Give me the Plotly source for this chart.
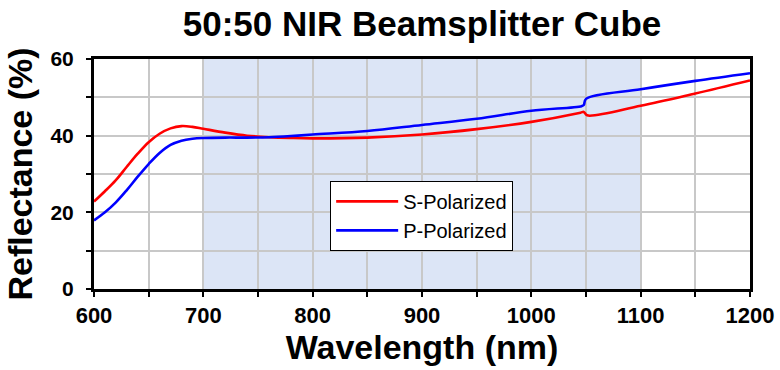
import plotly.graph_objects as go

wavelength_s = [600, 610, 620, 630, 640, 650, 660, 670, 680, 690, 700, 720, 740, 760, 780, 800,
                850, 900, 950, 1000, 1045, 1048, 1051, 1100, 1150, 1200]
s_pol = [22.8, 25.5, 28.4, 31.9, 35.3, 38.3, 40.5, 41.9, 42.5, 42.3, 41.8, 40.8, 40.0, 39.6, 39.4, 39.3,
         39.5, 40.3, 41.7, 43.6, 46.0, 46.2, 45.3, 47.8, 51.0, 54.4]

wavelength_p = [600, 610, 620, 630, 640, 650, 660, 670, 680, 690, 700, 720, 740, 760, 780, 800,
                850, 900, 950, 1000, 1046, 1048, 1050, 1100, 1150, 1200]
p_pol = [17.9, 20.0, 22.6, 25.8, 29.3, 32.6, 35.5, 37.6, 38.7, 39.2, 39.4, 39.5, 39.5, 39.6, 39.9, 40.3,
         41.2, 42.8, 44.4, 46.5, 47.7, 48.0, 49.6, 52.1, 54.3, 56.3]

band = [700, 1100]
x_ticks = [600, 700, 800, 900, 1000, 1100, 1200]
y_ticks = [0, 20, 40, 60]

FONT = "Liberation Sans, Arial, sans-serif"

fig = go.Figure()
fig.add_trace(go.Scatter(x=wavelength_s, y=s_pol, mode="lines", name="S-Polarized",
                         line=dict(color="#ff0000", width=2.6, shape="spline", smoothing=1.0)))
fig.add_trace(go.Scatter(x=wavelength_p, y=p_pol, mode="lines", name="P-Polarized",
                         line=dict(color="#0000ff", width=2.6, shape="spline", smoothing=1.0)))

fig.add_shape(type="rect", xref="x", yref="paper", x0=band[0], x1=band[1], y0=0, y1=1,
              fillcolor="#dce5f6", line=dict(width=0), layer="below")

fig.update_layout(
    width=780, height=370,
    margin=dict(l=94, r=30, t=59, b=81, autoexpand=False),
    paper_bgcolor="white", plot_bgcolor="white",
    title=dict(text="50:50 NIR Beamsplitter Cube", x=0.5, xref="paper", xanchor="center",
               y=0.935, yref="container", yanchor="middle", automargin=False,
               font=dict(family=FONT, size=35, color="black", weight="bold")),
    legend=dict(x=0.36, y=0.47, xanchor="left", yanchor="top", bgcolor="white",
                bordercolor="black", borderwidth=1, itemwidth=62,
                font=dict(family=FONT, size=20, color="black")),
    showlegend=True,
)

fig.update_xaxes(range=[600, 1200], tickvals=x_ticks, ticks="outside", ticklen=5, tickwidth=2,
                 tickcolor="black", showline=True, linewidth=3, linecolor="black", mirror=True,
                 showgrid=True, gridcolor="#c8c8c8", gridwidth=2, zeroline=False, automargin=False,
                 minor=dict(dtick=50, ticks="outside", ticklen=5, tickwidth=2, tickcolor="black",
                            showgrid=True, gridcolor="#c8c8c8", gridwidth=2),
                 tickfont=dict(family=FONT, size=22, color="black", weight="bold"),
                 title=dict(text="Wavelength (nm)", standoff=2,
                            font=dict(family=FONT, size=34, color="black", weight="bold")))
fig.update_yaxes(range=[0, 60], tickvals=y_ticks, ticks="outside", ticklen=5, tickwidth=2,
                 tickcolor="black", showline=True, linewidth=3, linecolor="black", mirror=True,
                 showgrid=True, gridcolor="#c8c8c8", gridwidth=2, zeroline=False, automargin=False,
                 minor=dict(dtick=10, ticks="outside", ticklen=5, tickwidth=2, tickcolor="black",
                            showgrid=True, gridcolor="#c8c8c8", gridwidth=2),
                 tickfont=dict(family=FONT, size=21, color="black", weight="bold"),
                 ticklabelstandoff=8,
                 title=dict(text="Reflectance (%)", standoff=8,
                            font=dict(family=FONT, size=34, color="black", weight="bold")))

fig.write_html("out.html", config={"displayModeBar": False},
               post_script="document.body.style.margin='0';")
